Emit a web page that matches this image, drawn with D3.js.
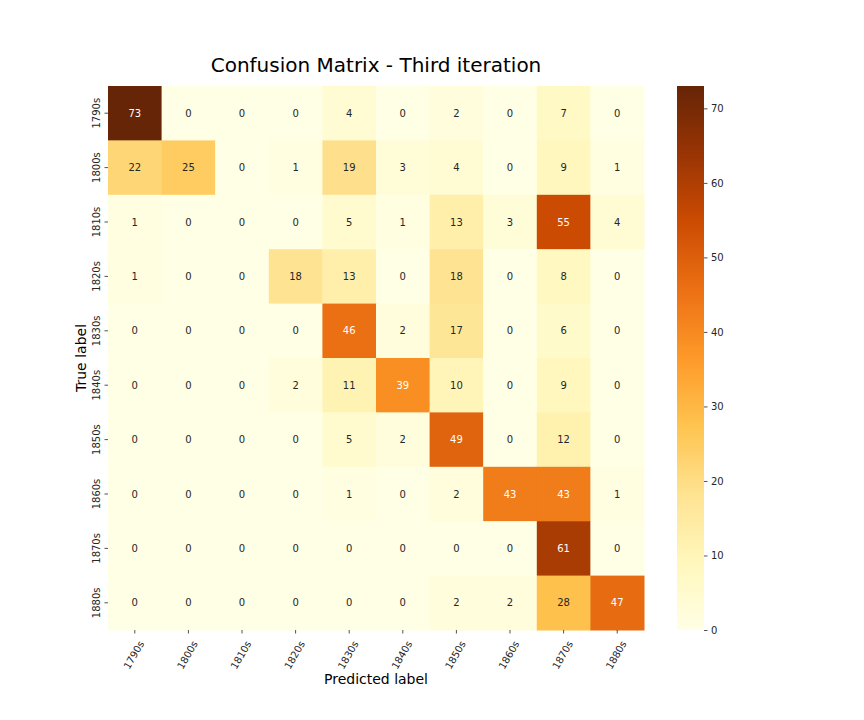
<!DOCTYPE html>
<html><head><meta charset="utf-8">
<script src="https://cdn.jsdelivr.net/npm/d3@7"></script>
<style>body{margin:0;background:#fff}text{font-family:"DejaVu Sans",sans-serif}</style>
</head><body><svg id="c" width="864" height="720"></svg>
<script>
const categories = ["1790s","1800s","1810s","1820s","1830s","1840s","1850s","1860s","1870s","1880s"];
const row1790s = [73,0,0,0,4,0,2,0,7,0];
const row1800s = [22,25,0,1,19,3,4,0,9,1];
const row1810s = [1,0,0,0,5,1,13,3,55,4];
const row1820s = [1,0,0,18,13,0,18,0,8,0];
const row1830s = [0,0,0,0,46,2,17,0,6,0];
const row1840s = [0,0,0,2,11,39,10,0,9,0];
const row1850s = [0,0,0,0,5,2,49,0,12,0];
const row1860s = [0,0,0,0,1,0,2,43,43,1];
const row1870s = [0,0,0,0,0,0,0,0,61,0];
const row1880s = [0,0,0,0,0,0,2,2,28,47];
const colorbarTicks = [0,10,20,30,40,50,60,70];
const rows = [row1790s,row1800s,row1810s,row1820s,row1830s,row1840s,row1850s,row1860s,row1870s,row1880s];

const svg = d3.select("#c");
const L=108,R=644,T=86,B=630;
const x = d3.scaleBand().domain(categories).range([L,R]).padding(0);
const y = d3.scaleBand().domain(categories).range([T,B]).padding(0);
const vmax = d3.max(rows.flat()), vmin = d3.min(rows.flat());
const brewer = ["#ffffe5","#fff7bc","#fee391","#fec44f","#fe9929","#ec7014","#cc4c02","#993404","#662506"];
const color = d3.scaleLinear().domain(d3.range(9).map(i=>vmin+(vmax-vmin)*i/8)).range(brewer).interpolate(d3.interpolateRgb).clamp(true);

function lum(c){
  const r=d3.rgb(c);
  const f=v=>{v/=255;return v<=0.03928?v/12.92:Math.pow((v+0.055)/1.055,2.4);};
  return 0.2126*f(r.r)+0.7152*f(r.g)+0.0722*f(r.b);
}

const cells=[];
rows.forEach((r,i)=>r.forEach((v,j)=>cells.push({t:categories[i],p:categories[j],v})));
const g=svg.append("g");
g.selectAll("rect").data(cells).join("rect")
 .attr("x",d=>x(d.p)).attr("y",d=>y(d.t))
 .attr("width",x.bandwidth()+0.5).attr("height",y.bandwidth()+0.5)
 .attr("fill",d=>color(d.v));
g.selectAll("text.a").data(cells).join("text").attr("class","a")
 .attr("x",d=>x(d.p)+x.bandwidth()/2).attr("y",d=>y(d.t)+y.bandwidth()/2)
 .attr("dy","0.35em").attr("text-anchor","middle").attr("font-size",10)
 .attr("fill",d=>lum(color(d.v))>0.408?"#262626":"#ffffff")
 .text(d=>d.v);

// x axis
const xa=svg.append("g").attr("transform",`translate(0,${B})`)
 .call(d3.axisBottom(x).tickSize(3.5).tickPadding(3));
xa.select(".domain").remove();
xa.selectAll("line").attr("stroke","#262626").attr("stroke-width",0.8);
xa.selectAll("text").attr("font-size",10).attr("fill","#262626")
 .attr("text-anchor","middle").attr("dy","0.35em")
 .attr("transform","translate(-1,25) rotate(-60)").attr("y",0).attr("x",0);

// y axis
const ya=svg.append("g").attr("transform",`translate(${L},0)`)
 .call(d3.axisLeft(y).tickSize(3.5).tickPadding(3));
ya.select(".domain").remove();
ya.selectAll("line").attr("stroke","#262626").attr("stroke-width",0.8);
ya.selectAll("text").attr("font-size",10).attr("fill","#262626")
 .attr("text-anchor","middle").attr("x",0).attr("dy",0)
 .attr("transform","translate(-8.5,0) rotate(-90)");

// title and labels
svg.append("text").attr("x",(L+R)/2).attr("y",72).attr("text-anchor","middle")
 .attr("font-size",20).attr("fill","#000").text("Confusion Matrix - Third iteration");
svg.append("text").attr("x",(L+R)/2).attr("y",684).attr("text-anchor","middle")
 .attr("font-size",14).attr("fill","#000").text("Predicted label");
svg.append("text").attr("transform",`translate(86,${(T+B)/2}) rotate(-90)`).attr("text-anchor","middle")
 .attr("font-size",14).attr("fill","#000").text("True label");

// colorbar
const CL=677,CR=704;
const cy=d3.scaleLinear().domain([vmin,vmax]).range([B,T]);
const defs=svg.append("defs");
const grad=defs.append("linearGradient").attr("id","cb").attr("x1",0).attr("x2",0).attr("y1",1).attr("y2",0);
d3.range(0,41).forEach(i=>grad.append("stop").attr("offset",i/40).attr("stop-color",color(vmin+(vmax-vmin)*i/40)));
svg.append("rect").attr("x",CL).attr("y",T).attr("width",CR-CL).attr("height",B-T).attr("fill","url(#cb)");
const ca=svg.append("g").attr("transform",`translate(${CR},0)`)
 .call(d3.axisRight(cy).tickValues(colorbarTicks).tickSize(3.5).tickPadding(3.5));
ca.select(".domain").remove();
ca.selectAll("line").attr("stroke","#262626").attr("stroke-width",0.8);
ca.selectAll("text").attr("font-size",10).attr("fill","#262626");
</script></body></html>
